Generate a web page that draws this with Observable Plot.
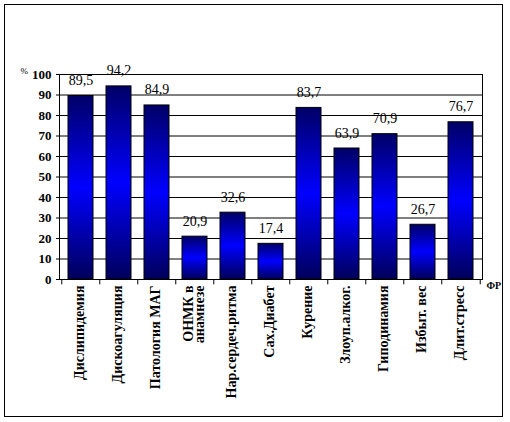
<!DOCTYPE html>
<html><head><meta charset="utf-8">
<script src="https://cdn.jsdelivr.net/npm/d3@7"></script>
<script src="https://cdn.jsdelivr.net/npm/@observablehq/plot@0.6"></script>
<style>
body{margin:0;background:#fff;}
#wrap{position:relative;width:510px;height:422px;}
#frame{position:absolute;left:4px;top:4px;width:497px;height:411px;border:1px solid #000;pointer-events:none;}
g[aria-label="cat-labels"] text{letter-spacing:1px;}
</style>
</head><body>
<svg width="0" height="0" style="position:absolute">
<defs>
<linearGradient id="barGrad" x1="0" y1="0" x2="0" y2="1">
<stop offset="0" stop-color="#000066"/>
<stop offset="0.5" stop-color="#0000ff"/>
<stop offset="1" stop-color="#00005a"/>
</linearGradient>
</defs>
</svg>
<div id="wrap"><div id="frame"></div></div>
<script>
const categories = ["Дислипидемия","Дискоагуляция","Патология МАГ","ОНМК в\nанамнезе","Нар.сердеч.ритма","Сах.Диабет","Курение","Злоуп.алког.","Гиподинамия","Избыт. вес","Длит.стресс"];
const values = [89.5,94.2,84.9,20.9,32.6,17.4,83.7,63.9,70.9,26.7,76.7];
const yTicks = [0,10,20,30,40,50,60,70,80,90,100];
const data = categories.map((c,i)=>({cat:c, v:values[i]}));
const fmt = v => v.toFixed(1).replace(".", ",");
const W = 510, H = 422, mL = 59, mR = 28, mT = 74, mB = 143;
const step = (W - mL - mR) / categories.length;
const serif = "Liberation Serif";

const chart = Plot.plot({
  width: W, height: H,
  marginLeft: mL, marginRight: mR, marginTop: mT, marginBottom: mB,
  style: {background: "transparent"},
  x: {domain: categories, paddingInner: 0.35, paddingOuter: 0.175, axis: null},
  y: {domain: [0, 100], axis: null},
  marks: [
    Plot.gridY(yTicks, {stroke: "#000", strokeOpacity: 1, strokeWidth: 1}),
    Plot.barY(data, {x: "cat", y: "v", fill: "url(#barGrad)", stroke: "#000", strokeWidth: 1}),
    Plot.frame({stroke: "#000", strokeWidth: 1}),
    Plot.axisY(yTicks, {label: null, tickSize: 3, tickPadding: 5, fontSize: 13, fontWeight: "bold", fontFamily: serif, tickFormat: d => d, stroke: "#000", fill: "#000"}),
    Plot.ruleX(categories, {x: d => d, dx: -step/2, y1: 0, y2: -2.6, stroke: "#000"}),
    Plot.ruleX(categories.slice(-1), {x: d => d, dx: step/2, y1: 0, y2: -2.6, stroke: "#000"}),
    Plot.text(data, {x: "cat", y: "v", text: d => fmt(d.v), dy: -11, lineAnchor: "bottom", fontSize: 14, fontFamily: serif, fill: "#000"}),
    Plot.text(categories, {ariaLabel: "cat-labels", x: d => d, text: d => d, frameAnchor: "bottom", dy: 6, rotate: -90, textAnchor: "end", lineAnchor: "middle", fontSize: 14, fontWeight: "bold", fontFamily: serif, fill: "#000", lineHeight: 0.75}),
    Plot.text(["%"], {frameAnchor: "top-left", dx: -39, dy: -7, fontSize: 9, fontFamily: serif, fill: "#000", textAnchor: "start"}),
    Plot.text(["ФР"], {frameAnchor: "bottom-right", dx: 4, dy: 9, fontSize: 10, fontWeight: "bold", fontFamily: serif, fill: "#000", textAnchor: "start"})
  ]
});
document.getElementById("wrap").prepend(chart);
chart.style.position = "absolute"; chart.style.left = "0"; chart.style.top = "0";
</script>
</body></html>
